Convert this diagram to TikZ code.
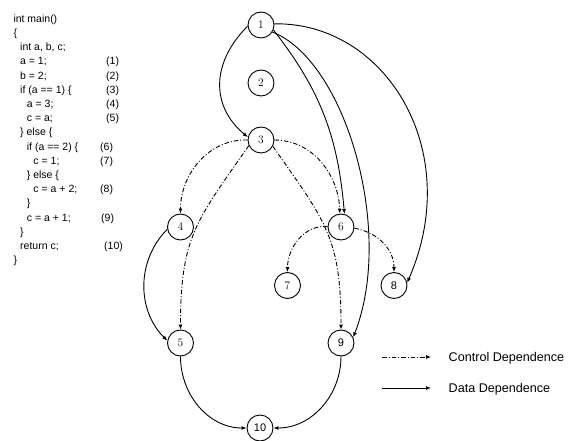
\documentclass[tikz,border=0pt]{standalone}
\usepackage{fontspec}
\newfontfamily\arial{Liberation Sans}
\usetikzlibrary{arrows.meta}
\begin{document}
\begin{tikzpicture}[x=1pt,y=1pt,
  num/.style={circle,draw,line width=0.9pt,minimum size=26pt,inner sep=0pt,font=\fontsize{11.5}{12}\selectfont},
  numsf/.style={num,font=\arial\fontsize{11}{12}\selectfont},
  ctrl/.style={line width=0.9pt,dash pattern=on 4.5pt off 2pt on 1pt off 2pt,-{Latex[length=5pt,width=4pt]}},
  data/.style={line width=0.9pt,-{Latex[length=5pt,width=4pt]}},
  code/.style={anchor=base west,inner sep=0pt,font=\arial\fontsize{10.5}{12}\selectfont},
  legendtext/.style={anchor=base west,inner sep=0pt,font=\arial\fontsize{12.6}{14}\selectfont}]
\useasboundingbox (0,0) rectangle (571,-441);

% code listing
\node[code] (c0)  at (13.3,-22.3)  {int main()};
\node[code] (c1)  at (13.3,-36.5)  {\{};
\node[code] (c2)  at (20,-50.7)    {int a, b, c;};
\node[code] (c3)  at (20,-64.9)    {a = 1;};
\node[code] (c4)  at (20,-79.1)    {b = 2;};
\node[code] (c5)  at (20,-93.3)    {if (a == 1) \{};
\node[code] (c6)  at (26.7,-107.5) {a = 3;};
\node[code] (c7)  at (26.7,-121.7) {c = a;};
\node[code] (c8)  at (20,-135.9)   {\} else \{};
\node[code] (c9)  at (26.7,-150.1) {if (a == 2) \{};
\node[code] (c10) at (33.3,-164.3) {c = 1;};
\node[code] (c11) at (26.7,-178.5) {\} else \{};
\node[code] (c12) at (33.3,-192.7) {c = a + 2;};
\node[code] (c13) at (26.7,-206.9) {\}};
\node[code] (c14) at (26.7,-221.1) {c = a + 1;};
\node[code] (c15) at (20,-235.3)   {\}};
\node[code] (c16) at (20,-249.5)   {return c;};
\node[code] (c17) at (13.3,-263.7) {\}};

\node[code] (l1)  at (106,-64.9)  {(1)};
\node[code] (l2)  at (106,-79.1)  {(2)};
\node[code] (l3)  at (106,-93.3)  {(3)};
\node[code] (l4)  at (106,-107.5) {(4)};
\node[code] (l5)  at (106,-121.7) {(5)};
\node[code] (l6)  at (100,-150.1) {(6)};
\node[code] (l7)  at (100,-164.3) {(7)};
\node[code] (l8)  at (100,-192.7) {(8)};
\node[code] (l9)  at (101,-221.1) {(9)};
\node[code] (l10) at (104,-249.5) {(10)};

% graph nodes
\node[num]   (n1)  at (261,-25)  {1};
\node[num]   (n2)  at (261,-83)  {2};
\node[num]   (n3)  at (261,-140) {3};
\node[num]   (n4)  at (180.5,-227) {4};
\node[num]   (n5)  at (180.5,-343) {5};
\node[num]   (n6)  at (341,-227) {6};
\node[num]   (n7)  at (287.5,-285.5) {7};
\node[numsf] (n8)  at (394,-285.5) {8};
\node[numsf] (n9)  at (341,-343) {9};
\node[numsf] (n10) at (260,-428) {10};

% data dependences
\draw[data] (n1.185) to[out=225,in=140,looseness=1.15] (n3.168);
\draw[data] (n1.-22) to[out=-52,in=95] (n6.75);
\draw[data] (n1.-32) .. controls (345,-60) and (395,-230) .. (n9.25);
\draw[data] (n1.5) .. controls (385,-22) and (465,-150) .. (n8.12);
\draw[data] (n4.190) to[out=225,in=135] (n5.170);
\draw[data] (n5.south) to[out=-90,in=180] (n10.west);
\draw[data] (n9.south) to[out=-90,in=0] (n10.east);

% control dependences
\draw[ctrl] (n3.180) to[out=178,in=90] (n4.north);
\draw[ctrl] (n3.205) to[out=235,in=90,looseness=1.2] (n5.north);
\draw[ctrl] (n3.0) to[out=0,in=92] (n6.95);
\draw[ctrl] (n3.-28) to[out=-55,in=90,looseness=1.2] (n9.north);
\draw[ctrl] (n6.178) to[out=175,in=90] (n7.north);
\draw[ctrl] (n6.-5) to[out=-10,in=90] (n8.north);

% legend
\coordinate (lc1) at (382,-357);
\coordinate (lc2) at (431,-357);
\coordinate (ld1) at (382,-388);
\coordinate (ld2) at (431,-388);
\draw[ctrl] (lc1) -- (lc2);
\draw[data] (ld1) -- (ld2);
\node[legendtext] (lt1) at (448.5,-361.5) {Control Dependence};
\node[legendtext] (lt2) at (448.5,-392.5) {Data Dependence};
\end{tikzpicture}
\end{document}
